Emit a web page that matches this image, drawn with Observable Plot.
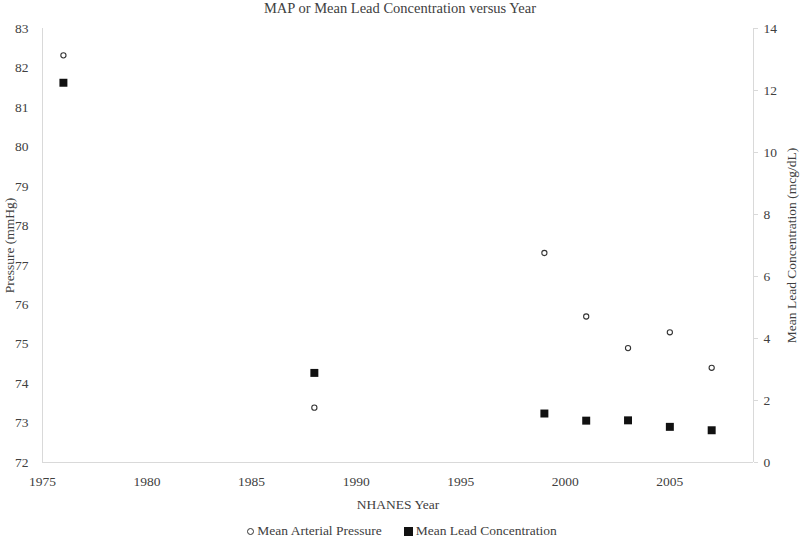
<!DOCTYPE html>
<html>
<head>
<meta charset="utf-8">
<script src="https://cdn.jsdelivr.net/npm/d3@7"></script>
<script src="https://cdn.jsdelivr.net/npm/@observablehq/plot@0.6"></script>
<style>
  body { margin: 0; background: #fff; font-family: "Liberation Serif", "Times New Roman", serif; color: #404040; }
  #title { height: 16px; line-height: 16px; text-align: center; font-size: 14.5px; color: #404040; }
  #legend { display: flex; justify-content: center; gap: 22px; font-size: 13.5px; height: 18px; line-height: 18px; margin-left: 4px; }
  .item { display: flex; align-items: center; gap: 3px; }
  .circ { width: 5px; height: 5px; border: 1px solid #333; border-radius: 50%; }
  .sq { width: 9px; height: 9px; background: #111; }
  #chart svg, #chart svg text { font-family: "Liberation Serif", "Times New Roman", serif !important; }
</style>
</head>
<body>
<div id="title">MAP or Mean Lead Concentration versus Year</div>
<div id="chart"></div>
<div id="legend">
  <div class="item"><div class="circ"></div><span>Mean Arterial Pressure</span></div>
  <div class="item"><div class="sq"></div><span>Mean Lead Concentration</span></div>
</div>
<script>
const years = [1976, 1988, 1999, 2001, 2003, 2005, 2007];
const meanArterialPressure = [82.32, 73.39, 77.31, 75.70, 74.90, 75.30, 74.40];
const meanLeadConcentration = [12.25, 2.89, 1.58, 1.35, 1.36, 1.15, 1.04];
const xTicks = [1975, 1980, 1985, 1990, 1995, 2000, 2005];
const pressureTicks = [72, 73, 74, 75, 76, 77, 78, 79, 80, 81, 82, 83];
const leadTicks = [0, 2, 4, 6, 8, 10, 12, 14];

const pDomain = [72, 83];
const lDomain = [0, 14];
const toP = l => pDomain[0] + (l - lDomain[0]) * (pDomain[1] - pDomain[0]) / (lDomain[1] - lDomain[0]);
const fromP = p => lDomain[0] + (p - pDomain[0]) * (lDomain[1] - lDomain[0]) / (pDomain[1] - pDomain[0]);

const mapData = years.map((y, i) => ({year: y, value: meanArterialPressure[i]}));
const leadData = years.map((y, i) => ({year: y, value: meanLeadConcentration[i]}));

const grey = "#d9d9d9";
const chart = Plot.plot({
  width: 800,
  height: 506,
  marginLeft: 42,
  marginRight: 47,
  marginTop: 12,
  marginBottom: 60,
  style: {fontFamily: "Liberation Serif, serif", fontSize: "13.5px", color: "#404040", background: "#fff"},
  x: {domain: [1975, 2009]},
  y: {domain: pDomain},
  marks: [
    Plot.ruleY([72], {stroke: grey, strokeWidth: 1}),
    Plot.ruleX([1975], {stroke: grey, strokeWidth: 1}),
    Plot.ruleX([2009], {stroke: grey, strokeWidth: 1}),
    Plot.axisX({ticks: xTicks, tickSize: 0, tickPadding: 14, tickFormat: d => String(d),
      label: "NHANES Year", labelAnchor: "center", labelArrow: "none", labelOffset: 46, fontSize: 13.5}),
    Plot.axisY({anchor: "left", ticks: pressureTicks, tickSize: 0, tickPadding: 14, tickFormat: d => String(d),
      label: "Pressure (mmHg)", labelAnchor: "center", labelArrow: "none", labelOffset: 38, fontSize: 13.5}),
    Plot.axisY({anchor: "right", ticks: leadTicks.map(toP), tickSize: 4, tickPadding: 6, stroke: grey,
      tickFormat: p => String(Math.round(fromP(p))),
      label: "Mean Lead Concentration (mcg/dL)", labelAnchor: "center", labelArrow: "none", labelOffset: 42, fontSize: 13.5}),
    Plot.dot(mapData, {x: "year", y: "value", r: 2.6, stroke: "#333", strokeWidth: 1.1, fill: "#fff"}),
    Plot.dot(leadData, {x: "year", y: d => toP(d.value), symbol: "square", r: 4.5, fill: "#111", stroke: "none"})
  ]
});
document.getElementById("chart").appendChild(chart);
</script>
</body>
</html>
